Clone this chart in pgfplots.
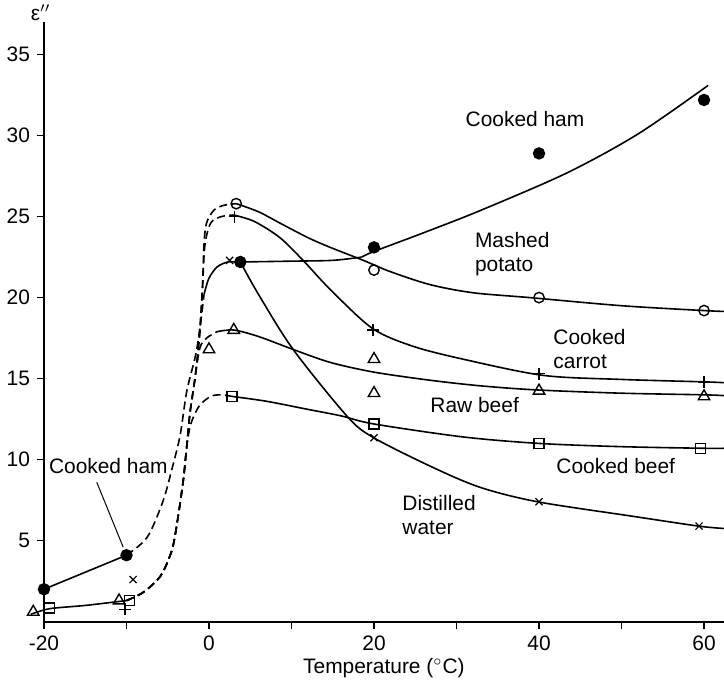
\documentclass[border=0pt]{standalone}
\usepackage{fontspec}
\setmainfont{Liberation Sans}
\usepackage{pgfplots}
\pgfplotsset{compat=1.18}
\begin{document}
\begin{tikzpicture}[font=\fontsize{10.5}{12}\selectfont]
\begin{axis}[
  x=4.125bp, y=8.1bp,
  xmin=-20, xmax=62.4, ymin=0, ymax=37,
  axis lines*=left,
  xtick={-20,0,20,40,60}, minor xtick={-10,10,30,50},
  ytick={5,10,15,20,25,30,35},
  tick align=outside,
  major tick length=3.5bp, minor tick length=3.5bp,
  tick style={black, line width=0.8bp},
  axis line style={black, line width=0.9bp},
  xlabel={Temperature ($^{\circ}$C)},
  xlabel style={yshift=3bp},
  clip=false,
  /pgf/number format/assume math mode=true,
  every axis plot/.append style={black, line width=0.8bp},
  dsh/.style={dash pattern=on 4bp off 2.2bp},
]
% ---------- curves ----------
% Cooked ham
\addplot[no markers] coordinates {(-20,2.0) (-10,4.1)};
\addplot[no markers, smooth, dsh] coordinates {(-10,4.1) (-7.5,5.2) (-5.6,7.4) (-4.5,9.4) (-3.5,11.5) (-2.7,14.2) (-1.6,16.5) (-1.0,18.5) (-0.6,20.2)};
\addplot[no markers, smooth] coordinates {(-0.6,20.2) (0,21.2) (1,21.9) (2.3,22.2) (3.7,22.2) (10,22.25) (15,22.3) (18.5,22.5)};
\addplot[no markers, smooth] coordinates {(18.5,22.5) (20,22.85) (26,24.0) (33,25.4) (43.4,27.7) (52,30.1) (60.5,33.1)};
% lower solid piece (raw beef / cooked beef)
\addplot[no markers, smooth] coordinates {(-21.6,0.45) (-19.3,0.8) (-15,1.0) (-10,1.3)};
% dashed branches
\addplot[no markers, smooth, dsh] coordinates {(-10,1.3) (-8,1.8) (-5.9,2.8) (-4.5,4.4) (-3.8,6.3) (-3.1,8.8) (-2.7,10.8) (-2.2,12.2) (-1.2,13.3) (0.2,13.9) (1.5,14.0) (2.8,13.9)};
\addplot[no markers, smooth, dsh] coordinates {(-10,1.3) (-8,1.8) (-5.9,2.8) (-4.5,4.4) (-3.8,6.3) (-3.1,8.8) (-2.7,10.8) (-2.3,12.9) (-1.7,15.0) (-1.1,16.9) (-0.3,17.5) (1,17.9)};
\addplot[no markers, smooth, dsh] coordinates {(-10,1.3) (-8,1.8) (-5.9,2.8) (-4.5,4.4) (-3.8,6.3) (-3.1,8.8) (-2.7,10.8) (-2.3,12.9) (-1.7,15.0) (-1.2,17.5) (-0.8,20.5) (-0.5,23.2) (0.2,24.6) (1.5,25.0) (3,25.1)};
\addplot[no markers, smooth, dsh] coordinates {(-10,1.3) (-8,1.8) (-5.9,2.8) (-4.5,4.4) (-3.8,6.3) (-3.1,8.8) (-2.7,10.8) (-2.3,12.9) (-1.7,15.0) (-1.1,17.8) (-0.8,20.5) (-0.6,23.3) (-0.3,24.6) (0.6,25.4) (1.8,25.7) (3.3,25.8)};
% Mashed potato
\addplot[no markers, smooth] coordinates {(3.3,25.8) (6,25.3) (8.6,24.6) (12,23.7) (14.7,23.1) (18.7,22.3) (22,21.6) (26.8,20.8) (32,20.3) (38.9,20.0) (50,19.5) (60,19.2) (62.4,19.15)};
% Cooked carrot
\addplot[no markers, smooth] coordinates {(3,25.1) (5.5,24.7) (8.6,23.7) (11.4,22.3) (14.7,20.5) (19.8,18.1) (24.7,17.0) (30.8,16.2) (40.5,15.2) (50,14.95) (60,14.8) (62.4,14.75)};
% Raw beef
\addplot[no markers, smooth] coordinates {(1,17.9) (3,18.0) (6,17.6) (10.2,16.8) (14.7,16.0) (20,15.4) (26.8,14.9) (33,14.55) (39.8,14.3) (50,14.1) (60,14.0) (62.4,13.95)};
% Cooked beef
\addplot[no markers, smooth] coordinates {(2.8,13.9) (7,13.6) (12,13.1) (16,12.7) (20,12.2) (30.8,11.4) (40,11.0) (50,10.8) (60,10.7) (62.4,10.7)};
% Distilled water
\addplot[no markers, smooth] coordinates {(3.8,22.2) (6,20.2) (10.2,16.8) (16.7,12.7) (19.8,11.4) (26.8,9.6) (32.8,8.3) (39.8,7.4) (51.4,6.5) (59.3,5.9) (62.4,5.75)};
% ---------- markers ----------
\addplot[only marks, mark=*, mark size=2.7bp, mark options={fill=black}] coordinates {(-20,2.0) (-10,4.1) (3.8,22.2) (20,23.1) (40,28.9) (60,32.2)};
\addplot[only marks, mark=o, mark size=2.6bp, mark options={fill=white, line width=0.7bp}] coordinates {(3.3,25.8) (20,21.7) (40,20.0) (60,19.2)};
\addplot[only marks, mark=+, mark size=3bp, mark options={line width=0.7bp}] coordinates {(-10.2,0.75) (3.1,25.0) (19.9,18.0) (40,15.3) (60,14.8)};
\addplot[only marks, mark=triangle, mark size=3.3bp, mark options={fill=white, line width=0.7bp}] coordinates {(-21.3,0.6) (-10.9,1.3) (0,16.8) (3,18.0) (20,16.2) (20,14.1) (40,14.25) (60,13.9)};
\addplot[only marks, mark=square, mark size=2.5bp, mark options={fill=white, line width=0.7bp}] coordinates {(-19.3,0.85) (-9.6,1.3) (2.8,13.9) (20,12.2) (40,11.0) (59.6,10.7)};
\addplot[only marks, mark=x, mark size=2.5bp, mark options={line width=0.6bp}] coordinates {(-9.2,2.6) (2.5,22.3) (20,11.35) (40,7.4) (59.4,5.9)};
% ---------- labels ----------
\node at (axis cs:38.3,31.0) {Cooked ham};
\node[anchor=west, align=left, inner sep=0pt] at (axis cs:32.2,22.7) {Mashed\\potato};
\node[anchor=west, align=left, inner sep=0pt] at (axis cs:41.7,16.85) {Cooked\\carrot};
\node at (axis cs:32.2,13.4) {Raw beef};
\node at (axis cs:49.3,9.6) {Cooked beef};
\node[anchor=west, align=left, inner sep=0pt] at (axis cs:23.4,6.6) {Distilled\\water};
\node at (axis cs:-12.2,9.6) {Cooked ham};
\draw[line width=0.5bp] (axis cs:-13.6,8.6) -- (axis cs:-10.4,4.6);
\node at (axis cs:-20.4,37.6) {ε$''$};
\coordinate (bbl) at (axis cs:-25.33,-4.04);
\coordinate (bbr) at (axis cs:62.42,38.37);
\end{axis}
\pgfresetboundingbox
\path[use as bounding box] (bbl) rectangle (bbr);
\end{tikzpicture}
\end{document}
